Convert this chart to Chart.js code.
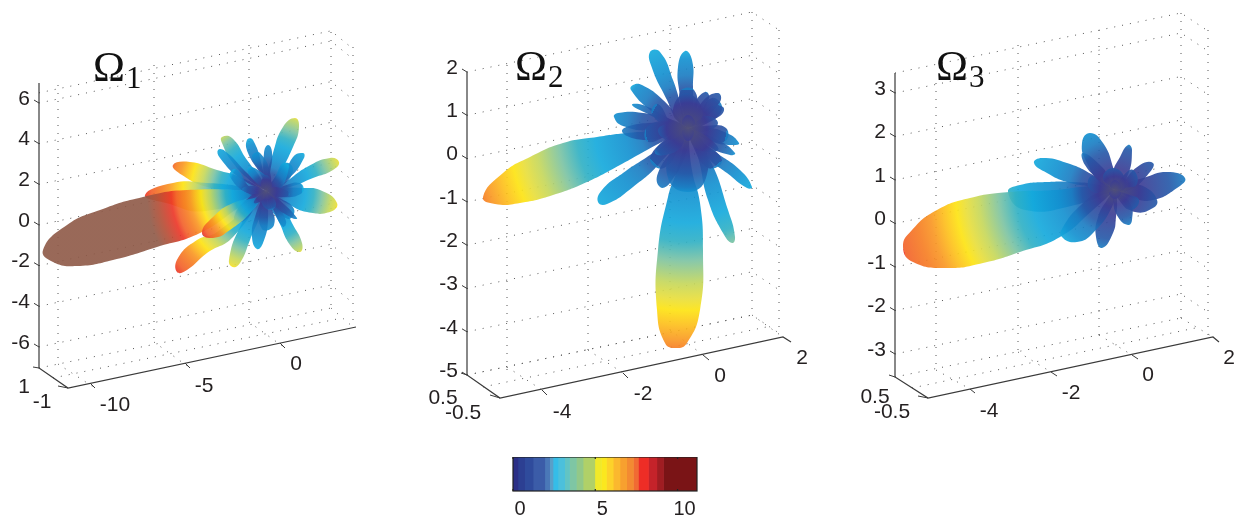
<!DOCTYPE html>
<html>
<head>
<meta charset="utf-8">
<script src="https://cdn.jsdelivr.net/npm/chart.js@4/dist/chart.umd.min.js"></script>
<style>
html, body { margin: 0; padding: 0; background: #fff; width: 1238px; height: 518px; overflow: hidden; }
.box { position: absolute; top: 0; height: 518px; }
.title { position: absolute; font-family: "Liberation Serif", serif; font-size: 43px; line-height: 50px; color: #111; }
.title sub { font-size: 31px; vertical-align: -7px; line-height: 0; margin-left: 1px; }
</style>
</head>
<body>
<div class="box" style="left:0;width:400px"><canvas id="panel1"></canvas></div>
<div class="box" style="left:420px;width:400px"><canvas id="panel2"></canvas></div>
<div class="box" style="left:850px;width:388px"><canvas id="panel3"></canvas></div>
<div class="box" style="left:480px;width:250px;top:457px;height:61px"><canvas id="colorbar"></canvas></div>
<div class="title" style="left:93px;top:42px">Ω<sub>1</sub></div>
<div class="title" style="left:515px;top:41px">Ω<sub>2</sub></div>
<div class="title" style="left:936px;top:41px">Ω<sub>3</sub></div>
<script>
// outlines are x,y pairs, offset from the centre of each figure, listed back to front
const panel1Lobes = [
  [-26,14, -49,21, -76,29, -93,26, -84,16, -59,4, -33,1],
  [-20,4, -59,8, -93,8, -121,-4, -100,-12, -60,-20],
  [-49,-41, -69,-49, -88,-67, -89,-81, -79,-79, -59,-62, -33,-46],
  [-14,9, -33,28, -44,48, -44,54, -34,53, -19,31, -4,11],
  [-26,13, -46,33, -48,41, -41,40, -19,18],
  [1,14, 7,38, 17,64, 29,73, 33,64, 27,44, 11,14],
  [16,11, 27,34, 37,38, 38,33, 24,14],
  [19,9, 41,24, 64,33, 73,29, 67,21, 47,13, 24,4],
  [17,3, 37,3, 54,1, 71,-12, 64,-21, 41,-21, 24,-14],
  [-4,14, -18,38, -19,51, -13,51, -3,21],
  [-2,8, -2,38, 2,46, 6,39, 4,18],
  [4,-16, 12,-29, 24,-54, 34,-61, 36,-52, 26,-32, 14,-9],
  [-11,-16, -26,-36, -37,-69, -33,-76, -26,-72, -16,-49, -4,-19],
  [-79,1, -123,-6, -166,-19, -199,-34, -223,-59, -213,-71, -189,-75, -153,-69, -109,-56, -66,-42, -26,-16],
  [-14,2, -30,22, -36,14, -14,-4],
  [-2,14, -14,34, -6,38, 5,14],
  [8,12, 20,28, 27,20, 14,4],
  [14,4, 34,8, 36,-2, 14,-6],
  [12,-6, 28,-18, 22,-28, 6,-12],
  [4,-12, 8,-34, -4,-38, -6,-12],
  [-8,-10, -22,-30, -32,-26, -14,-4],
  [-11,-26, -14,-46, -9,-58, -3,-52, 2,-29],
  [7,-18, 17,-36, 20,-30, 8,-8],
  [12,-8, 31,-27, 26,-27, 8,-14],
  [9,14, 17,28, 23,24, 11,-2],
  [-15,14, -18,23, -8,21, 4,8],
  [-9,-6, -33,-12, -53,-26, -64,-42, -53,-47, -36,-39, -13,-19],
  [-12,5, -24,2, -12,-3],
  [10,4, 24,-3, 12,-6],
  [-5,-10, 4,-19, 10,-12],
  [-5,6, 0,16, 6,6],
  [-6,-3, -12,-12, -2,-8]
];
const panel1TipValues = [6.2, 7, 7, 3.9, 2.2, 4.2, 2.2, 4.4, 4.5, 1.9, 1.7, 4.2, 4.6, 17, 1.8, 1.6, 1.6, 1.7, 1.6, 1.6, 1.7, 2.2, 1.7, 1.4, 2.1, 1.9, 7, 1.3, 1.1, 1.1, 0.7, 0.7];

const panel2Lobes = [
  [-61,-5, -91,-9, -125,-15, -158,-29, -185,-45, -205,-69, -193,-76, -168,-75, -135,-67, -101,-54, -68,-37, -41,-22],
  [-11,-42, -20,-69, -30,-122, -31,-182, -23,-215, -12,-220, -1,-215, 12,-182, 15,-122, 12,-75, 4,-42],
  [10,-29, 20,-72, 35,-105, 44,-115, 47,-109, 40,-82, 22,-32],
  [-35,-25, -65,-45, -86,-62, -90,-74, -81,-76, -55,-59, -28,-35],
  [25,-22, 52,-42, 64,-59, 59,-60, 39,-45, 19,-29],
  [-11,8, -21,28, -36,60, -38,76, -28,76, -15,48, -5,15],
  [-5,5, -8,31, -10,61, -3,77, 4,68, 5,41, 4,11],
  [-11,0, -38,18, -57,38, -55,43, -46,43, -25,28, -5,5],
  [-15,8, -45,15, -70,15, -74,11, -65,2, -35,-3, -10,0],
  [-15,2, -40,14, -56,23, -45,23, -20,10],
  [15,1, 39,-5, 51,-15, 47,-17, 25,-14],
  [30,-12, 47,-25, 42,-27, 20,-18],
  [-40,5, -66,-3, -40,-12],
  [-14,2, -30,24, -36,14, -14,-2],
  [-4,14, -8,36, 6,38, 8,14],
  [10,12, 24,30, 34,18, 14,2],
  [14,2, 38,0, 36,-14, 12,-8],
  [12,-12, 34,-32, 20,-40, 4,-16],
  [-6,-14, -24,-40, -38,-30, -14,-6],
  [-14,-4, -40,-14, -40,2, -14,6],
  [-10,-15, -30,-45, -28,-59, -18,-55, 0,-20],
  [-14,-15, -20,-50, 0,-64, 18,-50, 15,-15],
  [0,6, 6,24, 17,36, 21,30, 8,6],
  [14,26, 30,35, 32,26, 10,5],
  [20,20, 35,21, 32,12],
  [15,12, 30,5, 15,-4],
  [-15,-5, -33,-25, -10,-22],
  [-15,15, -2,35, 15,15],
  [-20,4, -30,-3, -18,-12],
  [18,-8, 30,-22, 8,-20],
  [-6,5, 0,13, 7,5],
  [-6,-4, 0,-13, 6,-4]
];
const panel2TipValues = [5.8, 5.8, 3.4, 2.4, 2.2, 2.4, 1.9, 1.8, 1.6, 1.5, 1.6, 1.4, 1.3, 1, 1, 1, 1, 1, 1, 1, 1.3, 1.4, 1, 1, 0.9, 0.8, 1.1, 0.7, 0.7, 0.7, 0.3, 0.3];

const panel3Lobes = [
  [-15,5, -42,8, -68,8, -95,5, -107,-2, -90,-20, -40,-15],
  [-22,15, -48,27, -73,32, -81,27, -68,17, -48,8, -22,3],
  [-20,4, -60,0, -105,-2, -145,-8, -178,-20, -203,-40, -212,-57, -202,-72, -168,-78, -132,-73, -95,-62, -55,-47, -22,-20],
  [-12,4, -28,27, -33,47, -25,57, -12,47, -2,23, 0,7],
  [-13,8, -30,25, -32,37, -13,23, -5,10],
  [-2,17, 5,33, 13,45, 17,40, 12,13],
  [12,7, 28,12, 52,18, 70,12, 62,2, 38,-10, 18,-8],
  [8,8, 25,25, 38,27, 35,18, 15,0],
  [15,5, 30,3, 42,-10, 38,-18, 20,-22, 8,-12],
  [-14,8, -24,14, -26,2, -12,-4],
  [8,14, 18,20, 22,6, 10,2],
  [12,-4, 24,-10, 16,-20, 4,-10],
  [-8,-10, -17,-27, -19,-47, -13,-58, -2,-43, 1,-27, 2,-10],
  [-15,-2, -32,-13, -52,-37, -53,-47, -38,-52, -22,-43, -3,-17],
  [-2,-10, 3,-27, 13,-35, 17,-30, 15,-13],
  [-12,12, -2,22, 10,12, 8,0, -10,0],
  [-5,4, 0,10, 6,3],
  [-6,-3, 0,-9, 6,-3]
];
const panel3TipValues = [2.8, 2.4, 6.6, 1.6, 1.2, 1.1, 1.3, 1, 0.9, 0.9, 0.9, 0.9, 1.2, 2, 1.3, 0.8, 0.3, 0.3];

const panel1ZTicks = [6, 4, 2, 0, -2, -4, -6];
const panel2ZTicks = [2, 1, 0, -1, -2, -3, -4, -5];
const panel3ZTicks = [3, 2, 1, 0, -1, -2, -3];

// x, top, bottom of the dotted uprights
const panel1Uprights = [[-208,106,-173], [-112,126,-151], [-17,146,-131], [65,159,-117], [87,144,-136]];
const panel2Uprights = [[-181,63,-244], [-100,83,-222], [-18,103,-202], [64,116,-187], [91,98,-205]];
const panel3Uprights = [[-179,107,-180], [-97,145,-162], [-16,160,-145], [66,177,-128], [93,160,-145]];

const panel1Floor = [[-227,-177,65,-117], [65,-117,87,-136], [-208,-173,-171,-197], [-112,-151,-76,-177], [-17,-131,19,-157], [-213,-187,76,-127]];
const panel2Floor = [[-221,-247,64,-187], [64,-187,95,-209], [-181,-239,-146,-262], [-100,-222,-65,-245], [-18,-202,15,-227], [-205,-259,83,-198]];
const panel3Floor = [[-220,-187,66,-128], [66,-128,98,-147], [-179,-180,-145,-199], [-97,-162,-64,-182], [-16,-145,17,-165], [-203,-198,85,-137]];

const panel1Axis = [-227,108, -227,-177, -198,-197, 90,-136];
const panel2Axis = [-221,56, -221,-247, -188,-270, 95,-209, 103,-214];
const panel3Axis = [-220,117, -220,-187, -187,-208, 98,-147, 104,-152];

const panel1Marks = [[-176,-192,-171,-197], [-81,-172,-76,-177], [14,-152,19,-157], [-208,-195,-198,-197], [-233,-176,-227,-177]];
const panel2Marks = [[-146,-262,-141,-267], [-65,-245,-60,-250], [15,-227,21,-232], [-198,-267,-188,-270], [-227,-245,-221,-247]];
const panel3Marks = [[-145,-199,-140,-203], [-64,-182,-58,-186], [17,-165,23,-169], [-197,-206,-187,-208], [-226,-185,-220,-187]];

const panel1TickText = ['-10', '-5', '0', '1', '-1'];
const panel1TickSpots = [[-151,-214], [-62,-195], [30,-173], [-242,-196], [-224,-211]];
const panel2TickText = ['-4', '-2', '0', '2', '0.5', '-0.5'];
const panel2TickSpots = [[-126,-284], [-45,-266], [32,-248], [114,-230], [-245,-270], [-225,-285]];
const panel3TickText = ['-4', '-2', '0', '2', '0.5', '-0.5'];
const panel3TickSpots = [[-126,-221], [-44,-203], [33,-185], [114,-168], [-240,-207], [-223,-222]];

const colorbarWidths = [.30,.41,.51,.71,.30,.20,.30,.41,.30,.41,.41,.71,.41,.30,.41,.41,.41,.41,.30,.61,.51,.41,2.03];
const colorbarColors = ['#2b2f86','#2c3f92','#2f4b9c','#3b5ca8','#4a78b8','#5a9fc8','#35bde8','#4cc0dc','#62c4c4','#7ec6a4','#92c888','#b0d068','#f0e92a','#fbe81e','#fdd22a','#fbb82e','#f7a02f','#f38a32','#f16a33','#ee2d26','#c5232a','#a01d22','#7a1416'];
const colorbarTicks = [0, 5, 10];

// colour of a lobe by its value
const rampValues = [0, .5, 1, 1.3, 1.7, 2.5, 3, 3.5, 4.1, 4.5, 4.8, 5.2, 5.6, 6, 6.6, 7, 8, 8.8];
const rampColors = ['#4f4f78','#3a3c94','#2558a8','#1a7cc2','#1290d0','#13a9dc','#2fb0c4','#7cc3a2','#c5d75a','#e8de3a','#fde310','#fdbe1a','#f99622','#f67d22','#f2602a','#ec3526','#b24e36','#8f5a48'];

const textColor = '#231f20';
const tickFont = { family: '"Liberation Sans", Arial, sans-serif', size: 21 };

function pairs(flat) {
  let out = [];
  for (let i = 0; i < flat.length; i += 2) out.push({ x: flat[i], y: flat[i + 1] });
  return out;
}

function lobeFill(context, tipValue, points) {
  const chart = context.chart;
  if (!chart.chartArea) return '#0f97d4';
  const cx = chart.scales.x.getPixelForValue(0);
  const cy = chart.scales.y.getPixelForValue(0);
  let reach = 1;
  points.forEach(p => {
    const d = Math.hypot(chart.scales.x.getPixelForValue(p.x) - cx, chart.scales.y.getPixelForValue(p.y) - cy);
    if (d > reach) reach = d;
  });
  const grad = chart.ctx.createRadialGradient(cx, cy, 0, cx, cy, reach);
  rampValues.forEach((v, i) => {
    if (v <= tipValue) grad.addColorStop(v / tipValue, rampColors[i] + 'e8');
  });
  let n = rampValues.findIndex(v => v > tipValue);
  if (n > 0) grad.addColorStop(1, rampColors[n] + 'e8');
  return grad;
}

function buildDatasets(panel) {
  let sets = [];
  const line = (data, extra) => sets.push(Object.assign({
    data: data, showLine: true, pointRadius: 0, borderWidth: 1, borderColor: '#444', clip: false, fill: false, tension: 0
  }, extra));
  const dots = { borderColor: '#555', borderDash: [1, 7], borderWidth: 1 };

  panel.uprights.forEach(u => line([{ x: u[0], y: u[1] }, { x: u[0], y: u[2] }], dots));
  panel.floor.forEach(f => line(pairs(f), dots));
  panel.levels.forEach(v => {
    const rise = panel.backRise / panel.zScale;
    line([
      { x: panel.axis[0], y: v },
      { x: panel.backX, y: v + rise },
      { x: panel.rightX, y: v + rise - 18 / panel.zScale }
    ], Object.assign({ yAxisID: 'z' }, dots));
  });

  panel.lobes.forEach((flat, i) => {
    const pts = [{ x: 0, y: 0 }].concat(pairs(flat), [{ x: 0, y: 0 }]);
    line(pts, {
      fill: 'shape', borderWidth: 0, tension: 0.5,
      backgroundColor: ctx => lobeFill(ctx, panel.tips[i], pts)
    });
  });

  line(pairs(panel.axis), { borderColor: '#3a3a3a', borderWidth: 1.2 });
  panel.marks.forEach(m => line(pairs(m), { borderColor: '#3a3a3a' }));
  panel.zTicks.forEach(v => line([
    { x: panel.axis[0], y: v },
    { x: panel.axis[0] - 5, y: v + 3 / panel.zScale }
  ], { yAxisID: 'z', borderColor: '#3a3a3a' }));
  return sets.reverse();
}

const tickTextPlugin = {
  id: 'tickText',
  afterDraw(chart, args, opts) {
    const ctx = chart.ctx;
    ctx.save();
    ctx.font = tickFont.size + 'px ' + tickFont.family;
    ctx.fillStyle = textColor;
    ctx.textAlign = 'center';
    ctx.textBaseline = 'middle';
    opts.text.forEach((t, i) => {
      ctx.fillText(t, chart.scales.x.getPixelForValue(opts.spots[i][0]), chart.scales.y.getPixelForValue(opts.spots[i][1]));
    });
    ctx.restore();
  }
};

function drawPanel(panel) {
  const pageH = 518;
  const width = panel.left + panel.width;
  new Chart(document.getElementById(panel.id), {
    type: 'scatter',
    data: { datasets: buildDatasets(panel) },
    plugins: [tickTextPlugin],
    options: {
      responsive: true, maintainAspectRatio: false, animation: false,
      layout: { padding: 0 },
      plugins: {
        legend: { display: false }, tooltip: { enabled: false },
        tickText: { text: panel.tickText, spots: panel.tickSpots }
      },
      scales: {
        x: { display: false, min: panel.axisX - panel.hubX, max: width - panel.hubX },
        y: { display: false, min: panel.hubY - pageH, max: panel.hubY },
        z: {
          position: 'left',
          min: (panel.zeroY - pageH) / panel.zScale,
          max: panel.zeroY / panel.zScale,
          border: { display: false },
          grid: { display: false, drawTicks: false },
          ticks: { font: tickFont, color: textColor, padding: 9, labelOffset: -4 },
          afterBuildTicks: s => { s.ticks = panel.zTicks.map(v => ({ value: v })); },
          afterFit: s => {
            s.width = panel.axisX - panel.left;
            s.paddingTop = 0;
            s.paddingBottom = 0;
          }
        }
      }
    }
  });
}

drawPanel({
  id: 'panel1', left: 0, width: 400, axisX: 39, hubX: 266, hubY: 191, zeroY: 225, zScale: 20.33,
  lobes: panel1Lobes, tips: panel1TipValues, zTicks: panel1ZTicks, levels: panel1ZTicks.concat([6.5]),
  uprights: panel1Uprights, floor: panel1Floor, axis: panel1Axis, marks: panel1Marks,
  tickText: panel1TickText, tickSpots: panel1TickSpots, backX: 65, backRise: 62, rightX: 87
});
drawPanel({
  id: 'panel2', left: 420, width: 400, axisX: 467, hubX: 688, hubY: 128, zeroY: 158.6, zScale: 43.3,
  lobes: panel2Lobes, tips: panel2TipValues, zTicks: panel2ZTicks, levels: panel2ZTicks,
  uprights: panel2Uprights, floor: panel2Floor, axis: panel2Axis, marks: panel2Marks,
  tickText: panel2TickText, tickSpots: panel2TickSpots, backX: 64, backRise: 60, rightX: 91
});
drawPanel({
  id: 'panel3', left: 850, width: 388, axisX: 895, hubX: 1115, hubY: 190, zeroY: 223.5, zScale: 43.5,
  lobes: panel3Lobes, tips: panel3TipValues, zTicks: panel3ZTicks, levels: panel3ZTicks.concat([3.46]),
  uprights: panel3Uprights, floor: panel3Floor, axis: panel3Axis, marks: panel3Marks,
  tickText: panel3TickText, tickSpots: panel3TickSpots, backX: 66, backRise: 60, rightX: 93
});

const framePlugin = {
  id: 'frame',
  afterDatasetsDraw(chart) {
    const a = chart.chartArea, ctx = chart.ctx;
    ctx.save();
    ctx.strokeStyle = '#222';
    ctx.lineWidth = 1.2;
    ctx.strokeRect(a.left, a.top, a.right - a.left, a.bottom - a.top);
    colorbarTicks.forEach(v => {
      const px = chart.scales.x.getPixelForValue(v);
      ctx.beginPath();
      ctx.moveTo(px, a.top); ctx.lineTo(px, a.top + 2);
      ctx.moveTo(px, a.bottom); ctx.lineTo(px, a.bottom - 2);
      ctx.stroke();
    });
    ctx.restore();
  }
};

new Chart(document.getElementById('colorbar'), {
  type: 'bar',
  data: {
    labels: [''],
    datasets: colorbarWidths.map((w, i) => ({
      data: [w], backgroundColor: colorbarColors[i], categoryPercentage: 1, barPercentage: 1, borderWidth: 0
    }))
  },
  plugins: [framePlugin],
  options: {
    indexAxis: 'y', responsive: true, maintainAspectRatio: false, animation: false,
    layout: { padding: { left: 33, right: 33, top: 0, bottom: 0 } },
    plugins: { legend: { display: false }, tooltip: { enabled: false } },
    scales: {
      y: { stacked: true, display: false },
      x: {
        stacked: true, min: 0, max: 11.18,
        border: { display: false },
        grid: { display: false, drawTicks: false },
        ticks: { font: { family: tickFont.family, size: 20 }, color: textColor, padding: 6, labelOffset: 7, maxRotation: 0 },
        afterBuildTicks: s => { s.ticks = colorbarTicks.map(v => ({ value: v })); },
        afterFit: s => { s.height = 27; }
      }
    }
  }
});
</script>
</body>
</html>
